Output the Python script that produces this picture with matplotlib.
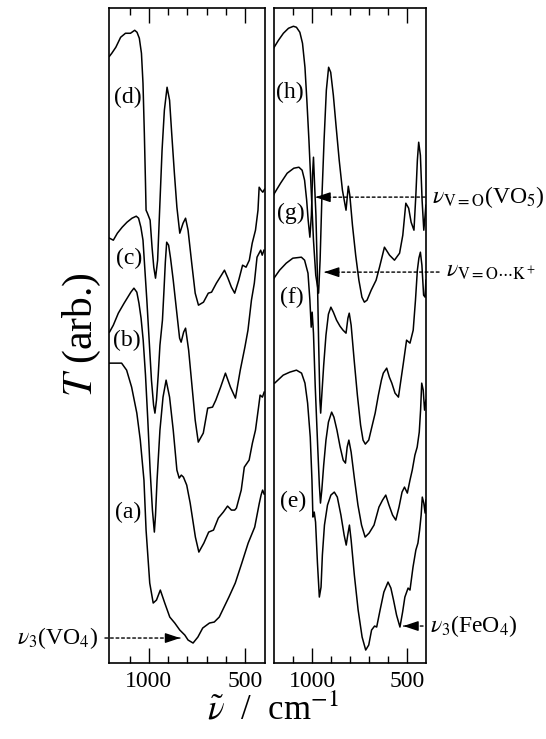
import matplotlib
matplotlib.use('Agg')
import matplotlib.pyplot as plt

plt.rcParams['font.family'] = ['Liberation Serif', 'DejaVu Serif']
plt.rcParams['mathtext.fontset'] = 'stix'

# IR spectra, (wavenumber / cm-1, T in arbitrary units)
spec_a = [(1205, 301), (1185, 301), (1142, 301), (1116, 294), (1090, 277), (1063, 251), (1045, 224),
          (1026, 184), (1015, 134), (996, 81), (978, 61), (961, 64), (941, 74), (918, 61), (892, 47),
          (866, 41), (840, 34), (814, 29), (797, 24), (771, 21), (746, 27), (721, 36), (686, 41),
          (661, 42), (635, 47), (610, 57), (585, 67), (552, 81), (518, 101), (485, 121), (451, 137),
          (427, 161), (418, 169), (410, 174), (402, 170)]
spec_b = [(1205, 332), (1185, 339), (1159, 351), (1129, 361), (1094, 372), (1078, 376), (1063, 372),
          (1052, 361), (1041, 346), (1030, 324), (1018, 289), (1006, 244), (994, 194), (982, 154),
          (972, 132), (966, 149), (958, 184), (943, 234), (927, 267), (911, 284), (893, 267), (874, 234),
          (855, 194), (843, 186), (832, 189), (821, 187), (804, 179), (786, 161), (759, 127), (741, 112),
          (715, 121), (690, 132), (665, 134), (640, 146), (614, 152), (592, 158), (572, 154), (555, 154),
          (546, 156), (521, 174), (505, 197), (480, 204), (463, 221), (447, 234), (431, 257), (423, 269),
          (411, 267), (402, 272)]
spec_c = [(1205, 426), (1185, 424), (1164, 431), (1139, 437), (1114, 442), (1088, 446), (1066, 448),
          (1054, 446), (1042, 437), (1031, 424), (1022, 397), (1011, 364), (999, 324), (987, 284),
          (976, 259), (969, 251), (961, 264), (952, 289), (943, 319), (930, 344), (922, 374), (915, 402),
          (908, 422), (898, 419), (888, 406), (874, 384), (857, 354), (841, 326), (833, 322), (820, 332),
          (810, 336), (794, 314), (777, 279), (760, 244), (744, 222), (718, 231), (695, 256), (670, 257),
          (653, 264), (628, 277), (603, 291), (577, 277), (551, 266), (526, 294), (502, 317), (486, 334),
          (468, 364), (453, 381), (439, 407), (420, 414), (412, 409), (403, 414)]
spec_d = [(1205, 608), (1193, 611), (1172, 617), (1147, 627), (1122, 631), (1096, 631), (1074, 634),
          (1062, 632), (1050, 626), (1039, 611), (1031, 581), (1024, 531), (1018, 481), (1015, 454),
          (1008, 451), (994, 444), (984, 417), (975, 397), (966, 386), (955, 404), (944, 457), (932, 514),
          (920, 554), (906, 577), (893, 564), (882, 531), (868, 491), (855, 457), (840, 431), (823, 441),
          (810, 446), (797, 434), (778, 401), (760, 371), (743, 359), (717, 362), (692, 371), (675, 372),
          (650, 381), (624, 389), (608, 394), (590, 386), (572, 377), (555, 371), (534, 384), (514, 399),
          (496, 397), (479, 404), (464, 421), (447, 434), (434, 454), (428, 477), (418, 474), (409, 472),
          (400, 475)]
spec_e = [(1205, 281), (1199, 281), (1154, 289), (1119, 292), (1084, 294), (1057, 291), (1039, 281),
          (1025, 261), (1011, 227), (1002, 184), (997, 147), (990, 152), (983, 142), (973, 101), (963, 67),
          (954, 77), (947, 109), (936, 139), (920, 159), (902, 169), (884, 172), (868, 167), (849, 149),
          (832, 129), (821, 119), (813, 129), (804, 139), (795, 124), (778, 89), (758, 54), (737, 27),
          (718, 14), (702, 19), (687, 34), (671, 38), (660, 37), (642, 54), (622, 72), (600, 82), (585, 76),
          (571, 64), (555, 49), (537, 37), (523, 52), (511, 67), (494, 76), (484, 74), (468, 97), (453, 114),
          (442, 121), (433, 134), (425, 149), (419, 167), (411, 161), (404, 151), (400, 164)]
spec_f = [(1205, 385), (1199, 387), (1173, 394), (1138, 401), (1103, 406), (1058, 407), (1041, 404),
          (1023, 391), (1013, 364), (1006, 337), (1001, 352), (994, 331), (985, 279), (972, 219), (963, 179),
          (957, 161), (950, 174), (940, 199), (928, 224), (915, 242), (898, 252), (886, 247), (870, 234),
          (853, 217), (837, 204), (825, 201), (816, 217), (807, 224), (795, 212), (778, 186), (759, 159),
          (740, 139), (721, 127), (700, 131), (674, 139), (648, 157), (629, 164), (612, 169), (595, 159),
          (576, 149), (559, 144), (542, 157), (526, 172), (513, 177), (498, 171), (484, 184), (472, 194),
          (458, 209), (446, 217), (435, 232), (428, 254), (422, 281), (414, 274), (407, 254), (400, 264)]
spec_g = [(1205, 469), (1200, 471), (1168, 481), (1133, 491), (1098, 496), (1071, 497), (1054, 494),
          (1041, 484), (1030, 464), (1022, 444), (1013, 427), (1005, 449), (999, 489), (994, 507),
          (988, 479), (981, 449), (974, 394), (967, 324), (960, 264), (956, 251), (950, 269), (940, 299),
          (928, 329), (915, 350), (902, 357), (889, 352), (872, 344), (854, 338), (838, 334), (822, 331),
          (812, 346), (805, 351), (795, 339), (779, 304), (762, 269), (745, 239), (732, 224), (720, 220),
          (702, 224), (687, 236), (668, 251), (651, 269), (635, 284), (625, 291), (607, 296), (593, 287),
          (580, 281), (563, 271), (545, 267), (532, 284), (519, 301), (502, 324), (484, 321), (467, 334),
          (455, 364), (445, 394), (437, 406), (429, 412), (421, 399), (412, 369), (404, 367), (400, 384)]
spec_h = [(1205, 616), (1179, 624), (1153, 631), (1126, 636), (1100, 638), (1084, 637), (1066, 632),
          (1052, 621), (1039, 597), (1029, 564), (1018, 524), (1006, 474), (994, 424), (982, 389),
          (967, 371), (959, 404), (950, 464), (938, 524), (926, 574), (914, 597), (903, 592), (889, 569),
          (875, 539), (858, 504), (841, 474), (822, 454), (810, 478), (802, 469), (788, 439), (771, 409),
          (754, 384), (738, 367), (725, 362), (711, 364), (689, 374), (663, 384), (645, 397), (619, 417),
          (592, 409), (566, 404), (539, 411), (522, 429), (506, 461), (491, 456), (478, 442), (463, 434),
          (453, 469), (445, 504), (438, 522), (429, 509), (420, 464), (411, 434), (404, 449), (400, 459)]

left_curves = [spec_a, spec_b, spec_c, spec_d]
right_curves = [spec_e, spec_f, spec_g, spec_h]
left_labels = [('(a)', 1110, 152), ('(b)', 1117, 324), ('(c)', 1105, 406), ('(d)', 1112, 567)]
right_labels = [('(e)', 1103, 163), ('(f)', 1109, 367), ('(g)', 1116, 451), ('(h)', 1117, 572)]

fig = plt.figure(figsize=(5.46, 7.39), dpi=100)
ax1 = fig.add_axes([0.2005, 0.1028, 0.284, 0.886])
ax2 = fig.add_axes([0.501, 0.1028, 0.279, 0.886])

for ax, curves, labels in [(ax1, left_curves, left_labels), (ax2, right_curves, right_labels)]:
    for spec in curves:
        x, y = zip(*spec)
        ax.plot(x, y, color='black', lw=1.1)
    for txt, lx, ly in labels:
        ax.text(lx, ly, txt, fontsize=17, ha='center', va='center')
    ax.set_xlim(1205, 400)
    ax.set_ylim(1, 656)
    ax.set_yticks([])
    ax.set_xticks([1000, 500])
    ax.set_xticklabels(['1000', '500'])
    ax.set_xticks([1100, 900, 800, 700, 600], minor=True)
    ax.tick_params(axis='x', which='both', direction='in', top=True, width=1)
    ax.tick_params(axis='x', which='major', length=11, labelsize=17, pad=6)
    ax.tick_params(axis='x', which='minor', length=5)
    for s in ax.spines.values():
        s.set_linewidth(1.2)


def marker(ax, head, text, tpos, side, size):
    # dotted leader from the text, solid arrow head at the band
    ha = 'right' if side == 'left' else 'left'
    ax.annotate(text, xy=head, xycoords='data', xytext=tpos, textcoords='figure pixels',
                ha=ha, va='center', fontsize=size,
                arrowprops=dict(arrowstyle='-', linestyle=(0, (2, 2)), color='black', lw=1,
                                shrinkA=3, shrinkB=0))
    off = -9 if side == 'left' else 9
    ax.annotate('', xy=head, xycoords='data', xytext=(off, 0), textcoords='offset points',
                arrowprops=dict(arrowstyle='-|>,head_length=0.9,head_width=0.3', color='black',
                                lw=1, shrinkA=0, shrinkB=0))


marker(ax1, (838, 26), r'$\nu_3$(VO$_4$)', (98, 101), 'left', 17)
marker(ax2, (984, 467), r'$\nu_{\mathrm{V=O}}$(VO$_5$)', (432, 542), 'right', 17)
marker(ax2, (938, 392), r'$\nu_{\mathrm{V=O}\cdots\mathrm{K}^+}$', (446, 467), 'right', 17)
marker(ax2, (519, 38), r'$\nu_3$(FeO$_4$)', (430, 113), 'right', 17)

fig.text(0.150, 0.548, r'$T$ (arb.)', rotation=90, fontsize=30, ha='center', va='center')
fig.text(0.50, 0.026, r'$\tilde{\nu}$  /  cm$^{-1}$', fontsize=25, ha='center', va='baseline')

fig.savefig('out.png', dpi=100)
